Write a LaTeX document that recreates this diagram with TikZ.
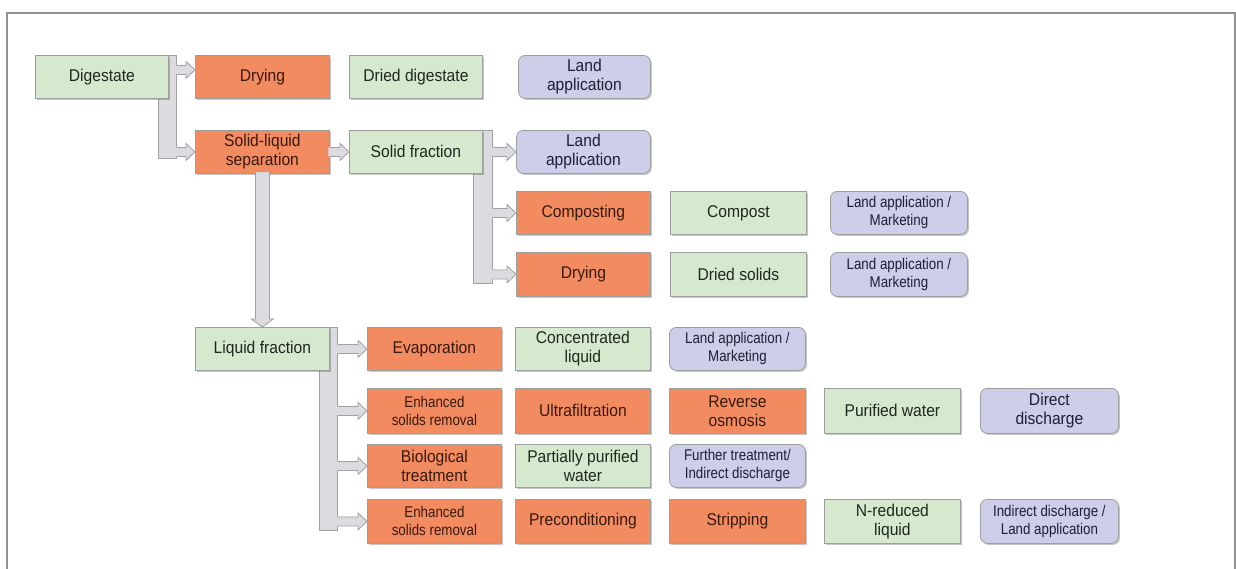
\documentclass[tikz,border=0pt]{standalone}
\usepackage{fontspec}
\setmainfont{Liberation Sans}[FakeStretch=0.92]
\newfontfamily\narrowfont{Liberation Sans}[FakeStretch=0.86]
\usetikzlibrary{shadows,calc}
\definecolor{gfill}{RGB}{214,232,205}
\definecolor{ofill}{RGB}{243,139,96}
\definecolor{pfill}{RGB}{206,205,234}
\definecolor{gtext}{RGB}{30,40,30}
\definecolor{otext}{RGB}{55,25,12}
\definecolor{ptext}{RGB}{30,30,55}
\definecolor{boxline}{RGB}{155,160,155}
\definecolor{barfill}{RGB}{220,220,224}
\definecolor{barline}{RGB}{160,160,165}
\definecolor{framec}{RGB}{145,145,145}
\tikzset{
  box/.style={draw=boxline, line width=0.8pt, align=center, inner sep=2pt, anchor=north west,
    font=\fontsize{17}{19}\selectfont,
    drop shadow={shadow xshift=1.5pt, shadow yshift=-1.5pt, fill=black, opacity=0.22}},
  gbox/.style={box, fill=gfill, text=gtext},
  obox/.style={box, fill=ofill, text=otext},
  pbox/.style={box, fill=pfill, text=ptext, rounded corners=7pt},
  small/.style={font=\narrowfont\fontsize{15.5}{18}\selectfont},
  bar/.style={draw=barline, fill=barfill, line width=0.8pt, anchor=north west, inner sep=0pt},
  arrfill/.style={fill=barfill},
  arrline/.style={draw=barline, line width=0.8pt, line join=miter},
}
\newcommand\bx[7]{\node[#1, minimum width={(#5-#3)*1pt}, minimum height={(#6-#4)*1pt}] (#2) at (#3,#4) {#7};}
\newcommand\barnode[5]{\node[bar, minimum width={(#4-#2)*1pt}, minimum height={(#5-#3)*1pt}] (#1) at (#2,#3) {};}
\newcommand\harr[2]{%
  \path[arrfill] let \p1=(#1), \p2=(#2) in
    (\x1-1.5pt,\y1+4.5pt) -- (\x2-9pt,\y1+4.5pt) -- (\x2-9pt,\y1+8.5pt) -- (\x2,\y1)
    -- (\x2-9pt,\y1-8.5pt) -- (\x2-9pt,\y1-4.5pt) -- (\x1-1.5pt,\y1-4.5pt) -- cycle;
  \path[arrline] let \p1=(#1), \p2=(#2) in
    (\x1,\y1+4.5pt) -- (\x2-9pt,\y1+4.5pt) -- (\x2-9pt,\y1+8.5pt) -- (\x2,\y1)
    -- (\x2-9pt,\y1-8.5pt) -- (\x2-9pt,\y1-4.5pt) -- (\x1,\y1-4.5pt);}
\newcommand\varr[2]{%
  \path[arrfill,arrline] let \p1=(#1), \p2=(#2) in
    (\x1-7pt,\y1+2pt) -- (\x1-7pt,\y2+8pt) -- (\x1-11pt,\y2+8pt) -- (\x1,\y2)
    -- (\x1+11pt,\y2+8pt) -- (\x1+7pt,\y2+8pt) -- (\x1+7pt,\y1+2pt) -- cycle;}
\begin{document}
\begin{tikzpicture}[x=1pt,y=-1pt]
\useasboundingbox (0,0) rectangle (1236,568);
\fill[white] (0,0) rectangle (1236,568);
\draw[framec, line width=1.5pt] (7,570) -- (7,13) -- (1235,13) -- (1235,570);

% bars
\barnode{b1}{158}{55}{176}{158}
\barnode{b2}{473}{130}{492}{283}
\barnode{b3}{319}{327}{337}{530}

% boxes
\bx{gbox}{dig}{35}{55}{168}{98}{Digestate}
\bx{obox}{dry1}{195}{55}{329}{98}{Drying}
\bx{gbox}{drieddig}{349}{55}{482}{98}{Dried digestate}
\bx{pbox}{land1}{518}{55}{650}{98}{Land\\application}

\bx{obox}{slsep}{195}{130}{329}{173}{Solid-liquid\\separation}
\bx{gbox}{solidfr}{349}{130}{482}{173}{Solid fraction}
\bx{pbox}{land2}{516}{130}{650}{173}{Land\\application}

\bx{obox}{compo}{516}{191}{650}{234}{Composting}
\bx{gbox}{compost}{670}{191}{806}{234}{Compost}
\bx{pbox,small}{lam1}{830}{191}{967}{234}{Land application /\\Marketing}

\bx{obox}{dry2}{516}{252}{650}{296}{Drying}
\bx{gbox}{driedsol}{670}{252}{806}{296}{Dried solids}
\bx{pbox,small}{lam2}{830}{252}{967}{296}{Land application /\\Marketing}

\bx{gbox}{liqfr}{195}{327}{329}{370}{Liquid fraction}
\bx{obox}{evap}{367}{327}{501}{370}{Evaporation}
\bx{gbox}{concliq}{515}{327}{650}{370}{Concentrated\\liquid}
\bx{pbox,small}{lam3}{669}{327}{805}{370}{Land application /\\Marketing}

\bx{obox,small}{esr1}{367}{388}{501}{433}{Enhanced\\solids removal}
\bx{obox}{ultra}{515}{388}{650}{433}{Ultrafiltration}
\bx{obox}{ro}{669}{388}{805}{433}{Reverse\\osmosis}
\bx{gbox}{purw}{824}{388}{960}{433}{Purified water}
\bx{pbox}{dd}{980}{388}{1118}{433}{Direct\\discharge}

\bx{obox}{bio}{367}{444}{501}{487}{Biological\\treatment}
\bx{gbox}{ppw}{515}{444}{650}{487}{Partially purified\\water}
\bx{pbox,small}{ftid}{669}{444}{805}{487}{Further treatment/\\Indirect discharge}

\bx{obox,small}{esr2}{367}{499}{501}{543}{Enhanced\\solids removal}
\bx{obox}{precond}{515}{499}{650}{543}{Preconditioning}
\bx{obox}{strip}{669}{499}{805}{543}{Stripping}
\bx{gbox}{nred}{824}{499}{960}{543}{N-reduced\\liquid}
\bx{pbox,small}{idla}{980}{499}{1118}{543}{Indirect discharge /\\Land application}

% connectors
\harr{$(b1.east |- dry1.west)+(0,-7)$}{$(dry1.west)+(0,-7)$}
\harr{b1.east |- slsep.west}{slsep.west}
\harr{slsep.east}{solidfr.west}
\harr{b2.east |- land2.west}{land2.west}
\harr{b2.east |- compo.west}{compo.west}
\harr{b2.east |- dry2.west}{dry2.west}
\varr{slsep.south}{liqfr.north}
\harr{b3.east |- evap.west}{evap.west}
\harr{b3.east |- esr1.west}{esr1.west}
\harr{b3.east |- bio.west}{bio.west}
\harr{b3.east |- esr2.west}{esr2.west}
\end{tikzpicture}
\end{document}
